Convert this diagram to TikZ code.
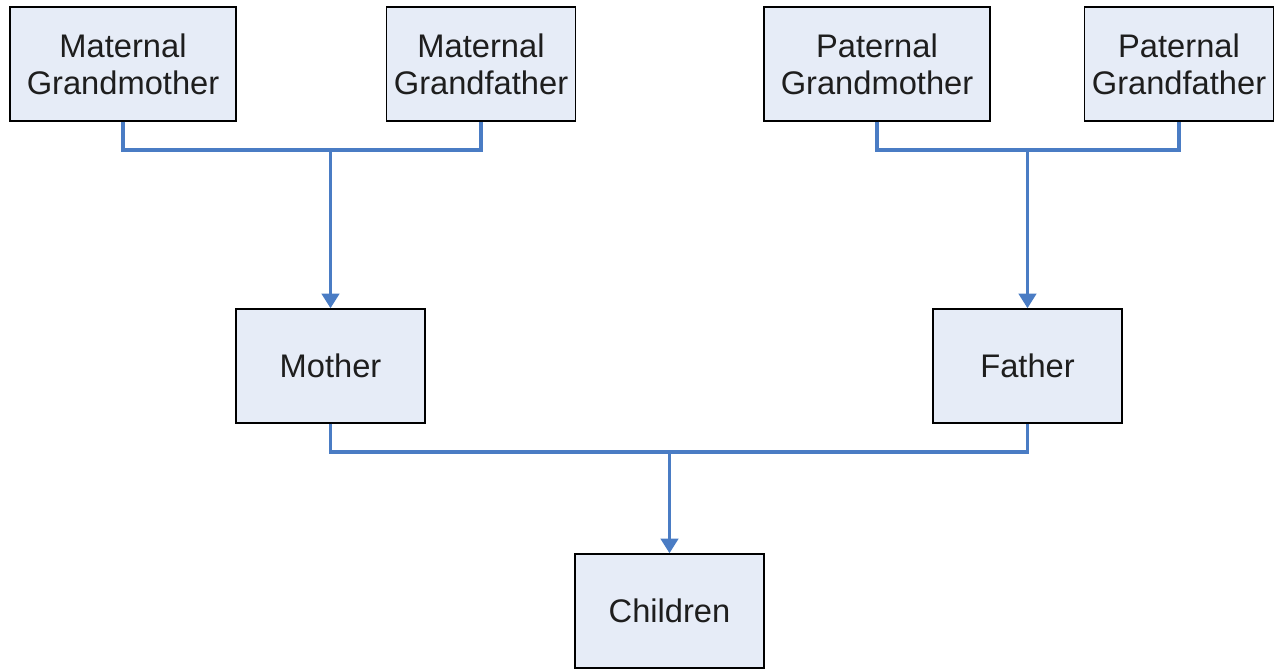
\documentclass[tikz,border=0pt]{standalone}
\usepackage{fontspec}
\setmainfont{Liberation Sans}
\usetikzlibrary{arrows.meta}
\definecolor{boxfill}{HTML}{E6ECF7}
\definecolor{linkblue}{HTML}{4A7CC4}
\definecolor{txt}{HTML}{1E1E1E}
\begin{document}
\begin{tikzpicture}[x=0.75pt,y=-0.75pt,
  box/.style={draw=black, line width=1.1pt, fill=boxfill, text=txt,
    align=center, inner sep=0pt, minimum height=85.5pt,
    font=\fontsize{24.5}{27.5}\selectfont},
  wide/.style={box, minimum width=169.5pt},
  narrow/.style={box, minimum width=141.5pt},
  link/.style={draw=linkblue, line width=2.6pt},
  arrowlink/.style={link, -{Triangle[width=13pt,length=11pt]}}]
\useasboundingbox (0,0) rectangle (1278,668);
% grandparents
\node[wide]   (mgm) at (123,64)    {Maternal\\Grandmother};
\node[narrow] (mgf) at (481,64)    {Maternal\\Grandfather};
\node[wide]   (pgm) at (877,64)    {Paternal\\Grandmother};
\node[narrow] (pgf) at (1179,64)   {Paternal\\Grandfather};
% parents and children
\node[narrow] (mother)   at (330.5,366)  {Mother};
\node[narrow] (father)   at (1027.5,366) {Father};
\node[narrow] (children) at (669.5,611)  {Children};
% junction points
\coordinate (mj) at (330.5,150);
\coordinate (pj) at (1027.5,150);
\coordinate (cj) at (669.5,452);
% connectors
\draw[link] (mgm.south) |- (mj) -| (mgf.south);
\draw[arrowlink] (mj) -- (mother.north);
\draw[link] (pgm.south) |- (pj) -| (pgf.south);
\draw[arrowlink] (pj) -- (father.north);
\draw[link] (mother.south) |- (cj) -| (father.south);
\draw[arrowlink] (cj) -- (children.north);
\end{tikzpicture}
\end{document}
